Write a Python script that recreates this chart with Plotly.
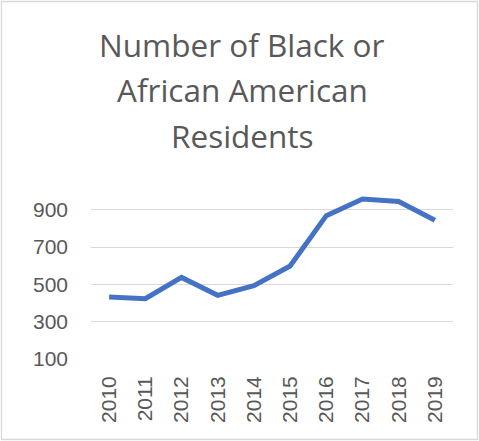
import plotly.graph_objects as go

years = ["2010", "2011", "2012", "2013", "2014", "2015", "2016", "2017", "2018", "2019"]
residents = [432, 423, 537, 441, 493, 598, 868, 957, 944, 843]
y_ticks = [100, 300, 500, 700, 900]
title_lines = ["Number of Black or", "African American", "Residents"]

W, H = 479, 441
ML, MR, MT, MB = 91, 26, 191, 82

fig = go.Figure()
fig.add_trace(go.Scatter(
    x=years, y=residents, mode="lines",
    line=dict(color="#4472C4", width=5),
    hoverinfo="skip", showlegend=False,
))

pw = W - ML - MR
ph = H - MT - MB

def px_x(x):
    return (x - ML) / pw

def px_y(y):
    return (H - MB - y) / ph

shapes = [dict(type="rect", xref="paper", yref="paper",
               x0=px_x(1.5), x1=px_x(477.5), y0=px_y(439.5), y1=px_y(1.5),
               line=dict(color="#D9D9D9", width=1.3), layer="below")]

annotations = []
for i, (line, yc) in enumerate(zip(title_lines, [44, 90, 135])):
    annotations.append(dict(
        text=line, xref="paper", yref="paper",
        x=px_x(242), y=px_y(yc), xanchor="center", yanchor="middle",
        showarrow=False,
        font=dict(family="Open Sans, Noto Sans, sans-serif", size=31.5, color="#595959"),
    ))

fig.update_layout(
    width=W, height=H,
    margin=dict(l=ML, r=MR, t=MT, b=MB),
    paper_bgcolor="white", plot_bgcolor="white",
    shapes=shapes, annotations=annotations,
    xaxis=dict(
        type="category", tickangle=-90, showgrid=False, zeroline=False,
        showline=False, ticks="", ticklen=0, ticklabelstandoff=12,
        tickfont=dict(family="Liberation Sans, Arial, sans-serif", size=21, color="#595959"),
        range=[-0.5, len(years) - 0.5],
    ),
    yaxis=dict(
        range=[100, 1000], tickvals=y_ticks, showgrid=True,
        gridcolor="#D9D9D9", gridwidth=1.3, zeroline=False, showline=False,
        ticks="", ticklabelstandoff=22,
        tickfont=dict(family="Liberation Sans, Arial, sans-serif", size=21, color="#595959"),
    ),
)

fig.write_html("out.html")
